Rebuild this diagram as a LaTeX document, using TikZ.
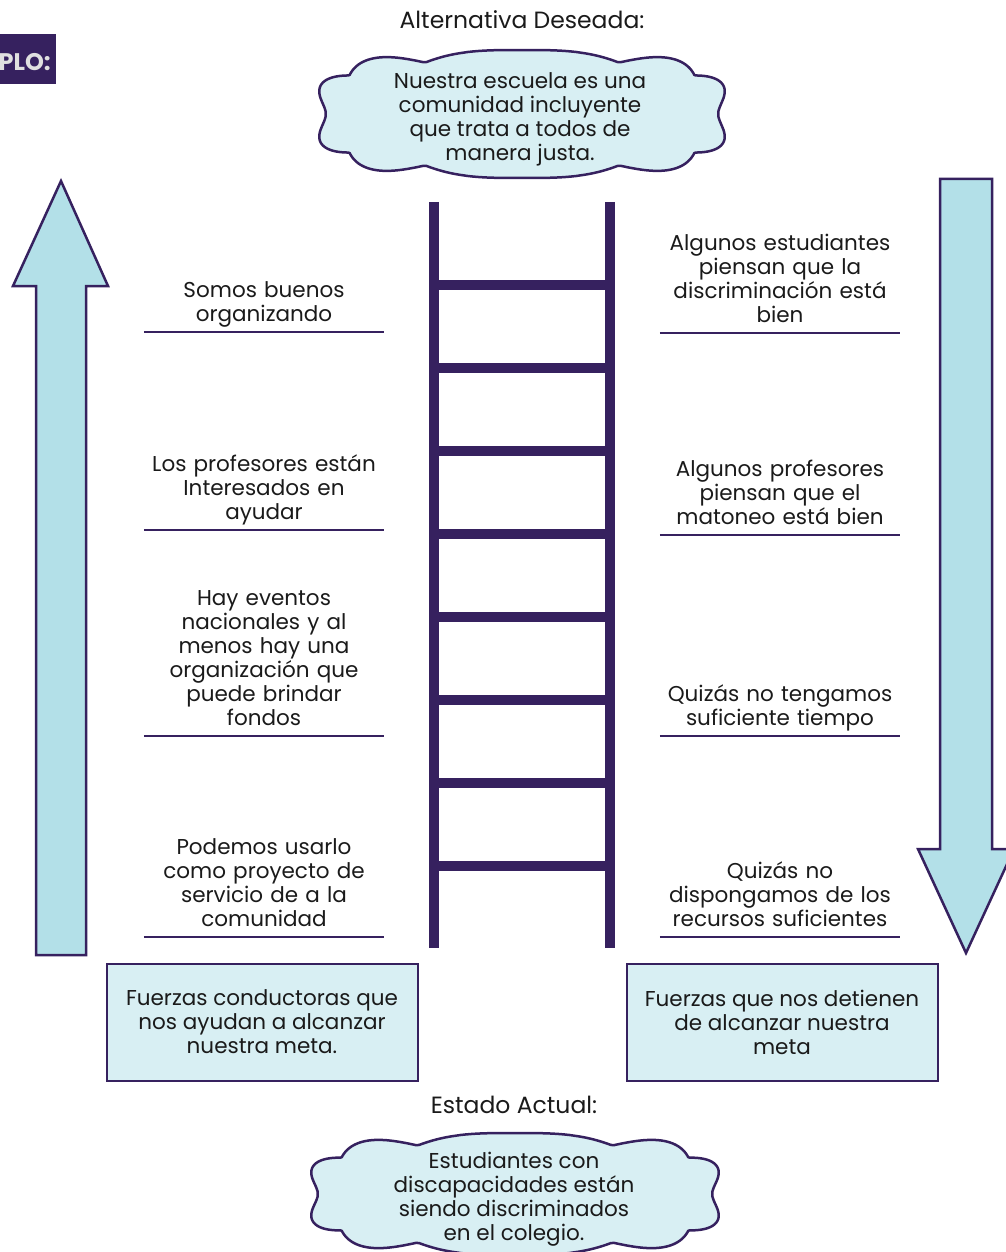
\documentclass[tikz,border=0pt]{standalone}
\usepackage{fontspec}
\setmainfont{Poppins}

\definecolor{ladderpurple}{HTML}{36215F}
\definecolor{arrowblue}{HTML}{B3E0E8}
\definecolor{paleblue}{HTML}{D8EFF3}
\definecolor{inkgray}{HTML}{1A1A1A}

%% puffy outline round a point: centre, half width, half height
\newcommand{\puffcloud}[3]{%
  \draw[bubble, shift={#1}] plot[domain=0.5:360.5, samples=361]
    ({#2*cos(\x)*abs(cos(\x))^(-0.4) + 11*abs(sin(5*\x))*cos(\x)},
     {#3*sin(\x)*abs(sin(\x))^(-0.4) + 11*abs(sin(5*\x))*sin(\x)}) -- cycle;}

\tikzset{
  rail/.style={line width=10pt, ladderpurple},
  force/.style={text width=250pt, align=center, anchor=south, inner xsep=0pt, inner ysep=3pt, text=inkgray, execute at end node=\strut},
  rule/.style={line width=2pt, ladderpurple},
  goalbox/.style={draw=ladderpurple, line width=2pt, fill=paleblue, minimum width=311pt, minimum height=117pt, align=center, text=inkgray},
  bubble/.style={draw=ladderpurple, line width=2.5pt, fill=paleblue, line join=round},
  bubbletext/.style={align=center, inner sep=0pt, text=inkgray},
  heading/.style={text=inkgray, font=\fontsize{23.5}{26}\selectfont},
  bigarrow/.style={draw=ladderpurple, line width=2.5pt, fill=arrowblue, line join=miter},
}

\begin{document}
\begin{tikzpicture}[x=1pt, y=-1pt, font=\fontsize{21.5}{24}\selectfont]
  \useasboundingbox (0,0) rectangle (1005,1252);

  %% tag
  \fill[ladderpurple] (-10,34) rectangle (56,84);
  \node[anchor=east, text=white!88!black, font=\fontsize{24}{24}\selectfont\bfseries, inner sep=0pt] (tag) at (51,62) {PLO:};

  %% desired state
  \node[heading] (goaltitle) at (522,20) {Alternativa Deseada:};
  \puffcloud{(522,114)}{196}{53}
  \node[bubbletext] (goal) at (520,119) {Nuestra escuela es una\\comunidad incluyente\\que trata a todos de\\manera justa.};

  %% present state
  \node[heading] (nowtitle) at (514,1105) {Estado Actual:};
  \puffcloud{(515,1194)}{197}{50}
  \node[bubbletext] (now) at (514,1199) {Estudiantes con\\discapacidades están\\siendo discriminados\\en el colegio.};

  %% big arrows
  \draw[bigarrow] (36,955) -- (36,286) -- (13,286) -- (61,181) -- (108,286) -- (86,286) -- (86,955) -- cycle;
  \draw[bigarrow] (940,179) -- (992,179) -- (992,849) -- (1014,849) -- (966,953) -- (918,849) -- (940,849) -- cycle;

  %% ladder
  \draw[rail] (434,202) to (434,948);
  \draw[rail] (610,202) to (610,948);
  \foreach \y in {285,368,451,534,617,700,783,866}
    \draw[rail] (434,\y) to (610,\y);

  %% driving forces
  \node[force] (d1) at (264,332) {Somos buenos\\organizando};
  \node[force] (d2) at (264,530) {Los profesores están\\Interesados en\\ayudar};
  \node[force] (d3) at (264,736) {Hay eventos\\nacionales y al\\menos hay una\\organización que\\puede brindar\\fondos};
  \node[force] (d4) at (264,937) {Podemos usarlo\\como proyecto de\\servicio de a la\\comunidad};
  \foreach \n in {d1,d2,d3,d4}
    \draw[rule] ([xshift=5pt]\n.south west) to ([xshift=-5pt]\n.south east);

  %% restraining forces
  \node[force] (r1) at (780,333) {Algunos estudiantes\\piensan que la\\discriminación está\\bien};
  \node[force] (r2) at (780,535) {Algunos profesores\\piensan que el\\matoneo está bien};
  \node[force] (r3) at (780,736) {Quizás no tengamos\\suficiente tiempo};
  \node[force] (r4) at (780,937) {Quizás no\\dispongamos de los\\recursos suficientes};
  \foreach \n in {r1,r2,r3,r4}
    \draw[rule] ([xshift=5pt]\n.south west) to ([xshift=-5pt]\n.south east);

  %% boxes
  \node[goalbox] (drive) at (262,1022) {Fuerzas conductoras que\\nos ayudan a alcanzar\\nuestra meta.};
  \node[goalbox] (hold) at (782,1022) {Fuerzas que nos detienen\\de alcanzar nuestra\\meta};
\end{tikzpicture}
\end{document}
